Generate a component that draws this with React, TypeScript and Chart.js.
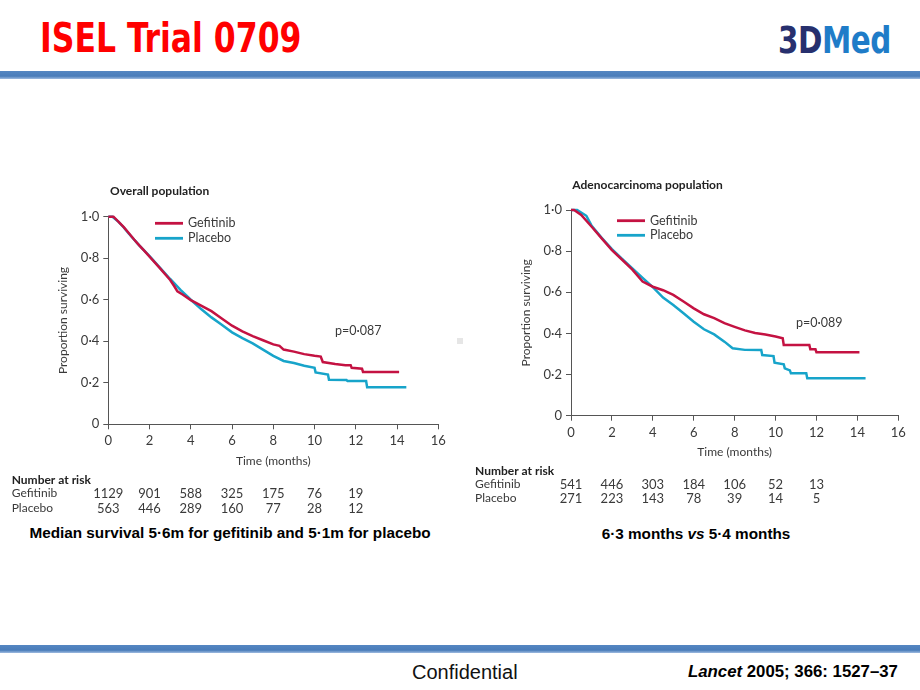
import React, { useEffect, useRef } from "react";
import { Chart, registerables } from "chart.js";
Chart.register(...registerables);

// ---------------- data ----------------
const xTickValues = [0, 2, 4, 6, 8, 10, 12, 14, 16];
const yTickValues = [0, 0.2, 0.4, 0.6, 0.8, 1.0];
const seriesNames = ["Gefitinib", "Placebo"];
const riskMonths = [0, 2, 4, 6, 8, 10, 12];

// Overall population
const overallGefMonths = [0, 0.25, 0.5, 0.75, 1, 1.25, 1.5, 1.75, 2, 2.5, 3, 3.2, 3.35, 3.6, 4, 4.5, 5, 5.5, 6, 6.5, 7, 7.5, 8, 8.3, 8.5, 9, 9.5, 10, 10.3, 10.4, 11, 11.5, 11.75, 11.8, 12.3, 12.35, 14.1];
const overallGefSurv = [1, 1, 0.975, 0.95, 0.92, 0.89, 0.862, 0.835, 0.808, 0.752, 0.695, 0.665, 0.64, 0.625, 0.598, 0.572, 0.545, 0.51, 0.475, 0.448, 0.425, 0.405, 0.385, 0.378, 0.36, 0.35, 0.338, 0.33, 0.326, 0.3, 0.29, 0.285, 0.285, 0.272, 0.268, 0.252, 0.252];
const overallPlaMonths = [0, 0.2, 0.5, 0.75, 1, 1.5, 2, 2.5, 3, 3.5, 4, 4.5, 5, 5.5, 6, 6.5, 7, 7.5, 8, 8.5, 9, 9.5, 10, 10.05, 10.65, 10.7, 11.55, 11.6, 12.5, 12.55, 14.45];
const overallPlaSurv = [1, 1, 0.975, 0.948, 0.918, 0.862, 0.81, 0.755, 0.7, 0.648, 0.6, 0.555, 0.515, 0.48, 0.443, 0.415, 0.39, 0.36, 0.33, 0.305, 0.295, 0.282, 0.272, 0.25, 0.24, 0.215, 0.213, 0.208, 0.208, 0.178, 0.178];
const overallGefRisk = [1129, 901, 588, 325, 175, 76, 19];
const overallPlaRisk = [563, 446, 289, 160, 77, 28, 12];

// Adenocarcinoma population
const adenoGefMonths = [0, 0.15, 0.5, 1, 1.5, 2, 2.5, 3, 3.5, 4, 4.5, 5, 5.5, 6, 6.5, 7, 7.5, 8, 8.5, 9, 9.5, 10, 10.35, 10.4, 11.65, 11.7, 11.95, 12, 14.1];
const adenoGefSurv = [1, 1, 0.976, 0.92, 0.862, 0.805, 0.758, 0.71, 0.652, 0.627, 0.61, 0.587, 0.555, 0.522, 0.493, 0.474, 0.45, 0.432, 0.415, 0.402, 0.395, 0.385, 0.376, 0.344, 0.344, 0.323, 0.323, 0.308, 0.308];
const adenoPlaMonths = [0, 0.3, 0.75, 1, 1.5, 2, 2.5, 3, 3.5, 4, 4.5, 5, 5.5, 6, 6.5, 7, 7.5, 7.9, 8.5, 9.3, 9.35, 9.9, 9.95, 10.4, 10.45, 10.7, 10.75, 11.5, 11.55, 14.4];
const adenoPlaSurv = [1, 1, 0.972, 0.925, 0.865, 0.81, 0.762, 0.716, 0.67, 0.625, 0.574, 0.538, 0.498, 0.457, 0.42, 0.395, 0.36, 0.328, 0.32, 0.319, 0.295, 0.29, 0.258, 0.25, 0.23, 0.22, 0.206, 0.206, 0.182, 0.182];
const adenoGefRisk = [541, 446, 303, 184, 106, 52, 13];
const adenoPlaRisk = [271, 223, 143, 78, 39, 14, 5];

// ---------------- styles ----------------
const FONT = "Lato, 'Noto Sans', sans-serif";
const RED = "#C41242";
const CYAN = "#17A4CA";
const AXIS = "#555555";
const TEXT = "#3a3a3a";

const fmt = (v: number) => (v === 0 ? "0" : v.toFixed(1).replace(".", "·"));

type KMProps = {
  left: number; top: number; width: number; height: number;
  pad: { left: number; right: number; top: number; bottom: number };
  title: string; titlePos: [number, number];
  legendX: [number, number]; legendY: [number, number];
  pText: string; pPos: [number, number];
  riskX: number; riskY: [number, number, number];
  gefMonths: number[]; gefSurv: number[];
  plaMonths: number[]; plaSurv: number[];
  gefRisk: number[]; plaRisk: number[];
};

function KMChart(p: KMProps) {
  const ref = useRef<HTMLCanvasElement | null>(null);
  useEffect(() => {
    if (!ref.current) return;
    const annot = {
      id: "annot",
      afterDraw(chart: any) {
        const ctx = chart.ctx as CanvasRenderingContext2D;
        const xs = chart.scales.x;
        ctx.save();
        ctx.textBaseline = "middle";
        ctx.textAlign = "left";
        ctx.fillStyle = "#222";
        ctx.font = `bold 12px ${FONT}`;
        ctx.fillText(p.title, p.titlePos[0], p.titlePos[1]);
        // legend
        const colors = [RED, CYAN];
        for (let i = 0; i < 2; i++) {
          ctx.strokeStyle = colors[i];
          ctx.lineWidth = 2.8;
          ctx.beginPath();
          ctx.moveTo(p.legendX[0], p.legendY[i]);
          ctx.lineTo(p.legendX[1], p.legendY[i]);
          ctx.stroke();
          ctx.fillStyle = TEXT;
          ctx.font = `12.5px ${FONT}`;
          ctx.fillText(seriesNames[i], p.legendX[1] + 5, p.legendY[i]);
        }
        // p value
        ctx.fillStyle = TEXT;
        ctx.font = `12.5px ${FONT}`;
        ctx.fillText(p.pText, p.pPos[0], p.pPos[1]);
        // number at risk
        ctx.fillStyle = "#222";
        ctx.font = `bold 12px ${FONT}`;
        ctx.fillText("Number at risk", p.riskX, p.riskY[0]);
        ctx.fillStyle = TEXT;
        ctx.font = `12px ${FONT}`;
        ctx.fillText(seriesNames[0], p.riskX, p.riskY[1]);
        ctx.fillText(seriesNames[1], p.riskX, p.riskY[2]);
        ctx.textAlign = "center";
        ctx.font = `13px ${FONT}`;
        riskMonths.forEach((m, j) => {
          const x = xs.getPixelForValue(m);
          ctx.fillText(String(p.gefRisk[j]), x, p.riskY[1] + 1);
          ctx.fillText(String(p.plaRisk[j]), x, p.riskY[2] + 1);
        });
        ctx.restore();
      },
    };
    const tickFont = { family: FONT, size: 13 };
    const titleFont = { family: FONT, size: 12 };
    const chart = new Chart(ref.current, {
      type: "line",
      data: {
        datasets: [
          {
            label: seriesNames[0],
            data: p.gefMonths.map((m, i) => ({ x: m, y: p.gefSurv[i] })),
            borderColor: RED, borderWidth: 2.5, pointRadius: 0, tension: 0, fill: false, clip: 6,
          },
          {
            label: seriesNames[1],
            data: p.plaMonths.map((m, i) => ({ x: m, y: p.plaSurv[i] })),
            borderColor: CYAN, borderWidth: 2.5, pointRadius: 0, tension: 0, fill: false, clip: 6,
          },
        ],
      },
      options: {
        animation: false,
        responsive: false,
        maintainAspectRatio: false,
        layout: { padding: p.pad },
        plugins: { legend: { display: false }, tooltip: { enabled: false }, title: { display: false } },
        scales: {
          x: {
            type: "linear", min: 0, max: 16,
            afterBuildTicks: (s: any) => { s.ticks = xTickValues.map((v) => ({ value: v })); },
            afterFit: (s: any) => { s.height = 70; },
            grid: { display: true, drawOnChartArea: false, drawTicks: true, tickLength: 5, color: AXIS },
            border: { display: true, color: AXIS, width: 1 },
            ticks: { color: TEXT, font: tickFont, padding: 4, maxRotation: 0, autoSkip: false, callback: (v: any) => String(v) },
            title: { display: true, text: "Time (months)", color: TEXT, font: titleFont, padding: { top: 0, bottom: 26.3 } },
          },
          y: {
            type: "linear", min: 0, max: 1,
            afterBuildTicks: (s: any) => { s.ticks = yTickValues.map((v) => ({ value: v })); },
            afterFit: (s: any) => { s.width = 56.3; },
            grid: { display: true, drawOnChartArea: false, drawTicks: true, tickLength: 5, color: AXIS },
            border: { display: true, color: AXIS, width: 1 },
            ticks: { color: TEXT, font: tickFont, padding: 4, callback: (v: any) => fmt(Number(v)) },
            title: { display: true, text: "Proportion surviving", color: TEXT, font: titleFont, padding: { top: 4, bottom: 0 } },
          },
        },
      },
      plugins: [annot],
    } as any);
    return () => chart.destroy();
  }, []);
  return (
    <canvas
      ref={ref}
      width={p.width}
      height={p.height}
      style={{ position: "absolute", left: p.left, top: p.top, width: p.width, height: p.height }}
    />
  );
}

const bar = (top: number): React.CSSProperties => ({
  position: "absolute", left: 0, top, width: 920, height: 8,
  background: "linear-gradient(#5486c2, #4a7dba 65%, #9fbbe0)",
});

const HEAD_FONT = "'Liberation Sans Narrow', 'DejaVu Sans Condensed', sans-serif";

export default function App() {
  return (
    <div style={{ position: "absolute", left: 0, top: 0, width: 920, height: 690, background: "#fff", overflow: "hidden" }}>
      <div style={{ position: "absolute", left: 40, top: 15, fontFamily: HEAD_FONT, fontWeight: "bold", fontSize: 40, lineHeight: "46px", color: "#FF0000", whiteSpace: "nowrap", transform: "scaleX(0.875)", transformOrigin: "0 0" }}>
        ISEL Trial 0709
      </div>
      <div style={{ position: "absolute", left: 778, top: 19, fontFamily: HEAD_FONT, fontWeight: "bold", fontSize: 38, lineHeight: "42px", whiteSpace: "nowrap", letterSpacing: -0.5, transform: "scaleX(0.86)", transformOrigin: "0 0" }}>
        <span style={{ color: "#27306e" }}>3D</span><span style={{ color: "#1f7cc8" }}>Med</span>
      </div>
      <div style={bar(71)} />
      <div style={bar(645)} />

      <KMChart
        left={0} top={170} width={460} height={350}
        pad={{ left: 52, right: 21.7, top: 46.7, bottom: 25.7 }}
        title="Overall population" titlePos={[110, 21]}
        legendX={[155, 183]} legendY={[53.3, 68.3]}
        pText="p=0·087" pPos={[335, 161]}
        riskX={11.7} riskY={[310, 323, 338]}
        gefMonths={overallGefMonths} gefSurv={overallGefSurv}
        plaMonths={overallPlaMonths} plaSurv={overallPlaSurv}
        gefRisk={overallGefRisk} plaRisk={overallPlaRisk}
      />
      <KMChart
        left={460} top={165} width={460} height={350}
        pad={{ left: 54.7, right: 21.7, top: 45, bottom: 29.3 }}
        title="Adenocarcinoma population" titlePos={[112.3, 20]}
        legendX={[157, 185]} legendY={[55.7, 70.3]}
        pText="p=0·089" pPos={[336, 158]}
        riskX={15} riskY={[306, 319, 333]}
        gefMonths={adenoGefMonths} gefSurv={adenoGefSurv}
        plaMonths={adenoPlaMonths} plaSurv={adenoPlaSurv}
        gefRisk={adenoGefRisk} plaRisk={adenoPlaRisk}
      />
      <div style={{ position: "absolute", left: 457, top: 338, width: 6, height: 6, background: "#e6e6e6" }} />

      <div style={{ position: "absolute", left: 0, top: 524, width: 460, textAlign: "center", fontFamily: "'Liberation Sans', Arial, sans-serif", fontWeight: "bold", fontSize: 15.3, lineHeight: "18px", color: "#000", whiteSpace: "nowrap" }}>
        Median survival 5·6m for gefitinib and 5·1m for placebo
      </div>
      <div style={{ position: "absolute", left: 596, top: 525, width: 200, textAlign: "center", fontFamily: "'Liberation Sans', Arial, sans-serif", fontWeight: "bold", fontSize: 15.3, lineHeight: "18px", color: "#000", whiteSpace: "nowrap" }}>
        6·3 months <i>vs</i> 5·4 months
      </div>

      <div style={{ position: "absolute", left: 412, top: 660, fontFamily: "'Liberation Sans', Arial, sans-serif", fontSize: 20, lineHeight: "24px", color: "#111", whiteSpace: "nowrap" }}>
        Confidential
      </div>
      <div style={{ position: "absolute", left: 688, top: 662, fontFamily: "'Liberation Sans', Arial, sans-serif", fontWeight: "bold", fontSize: 16.8, lineHeight: "20px", color: "#000", whiteSpace: "nowrap" }}>
        <i>Lancet</i> 2005; 366: 1527–37
      </div>
    </div>
  );
}
